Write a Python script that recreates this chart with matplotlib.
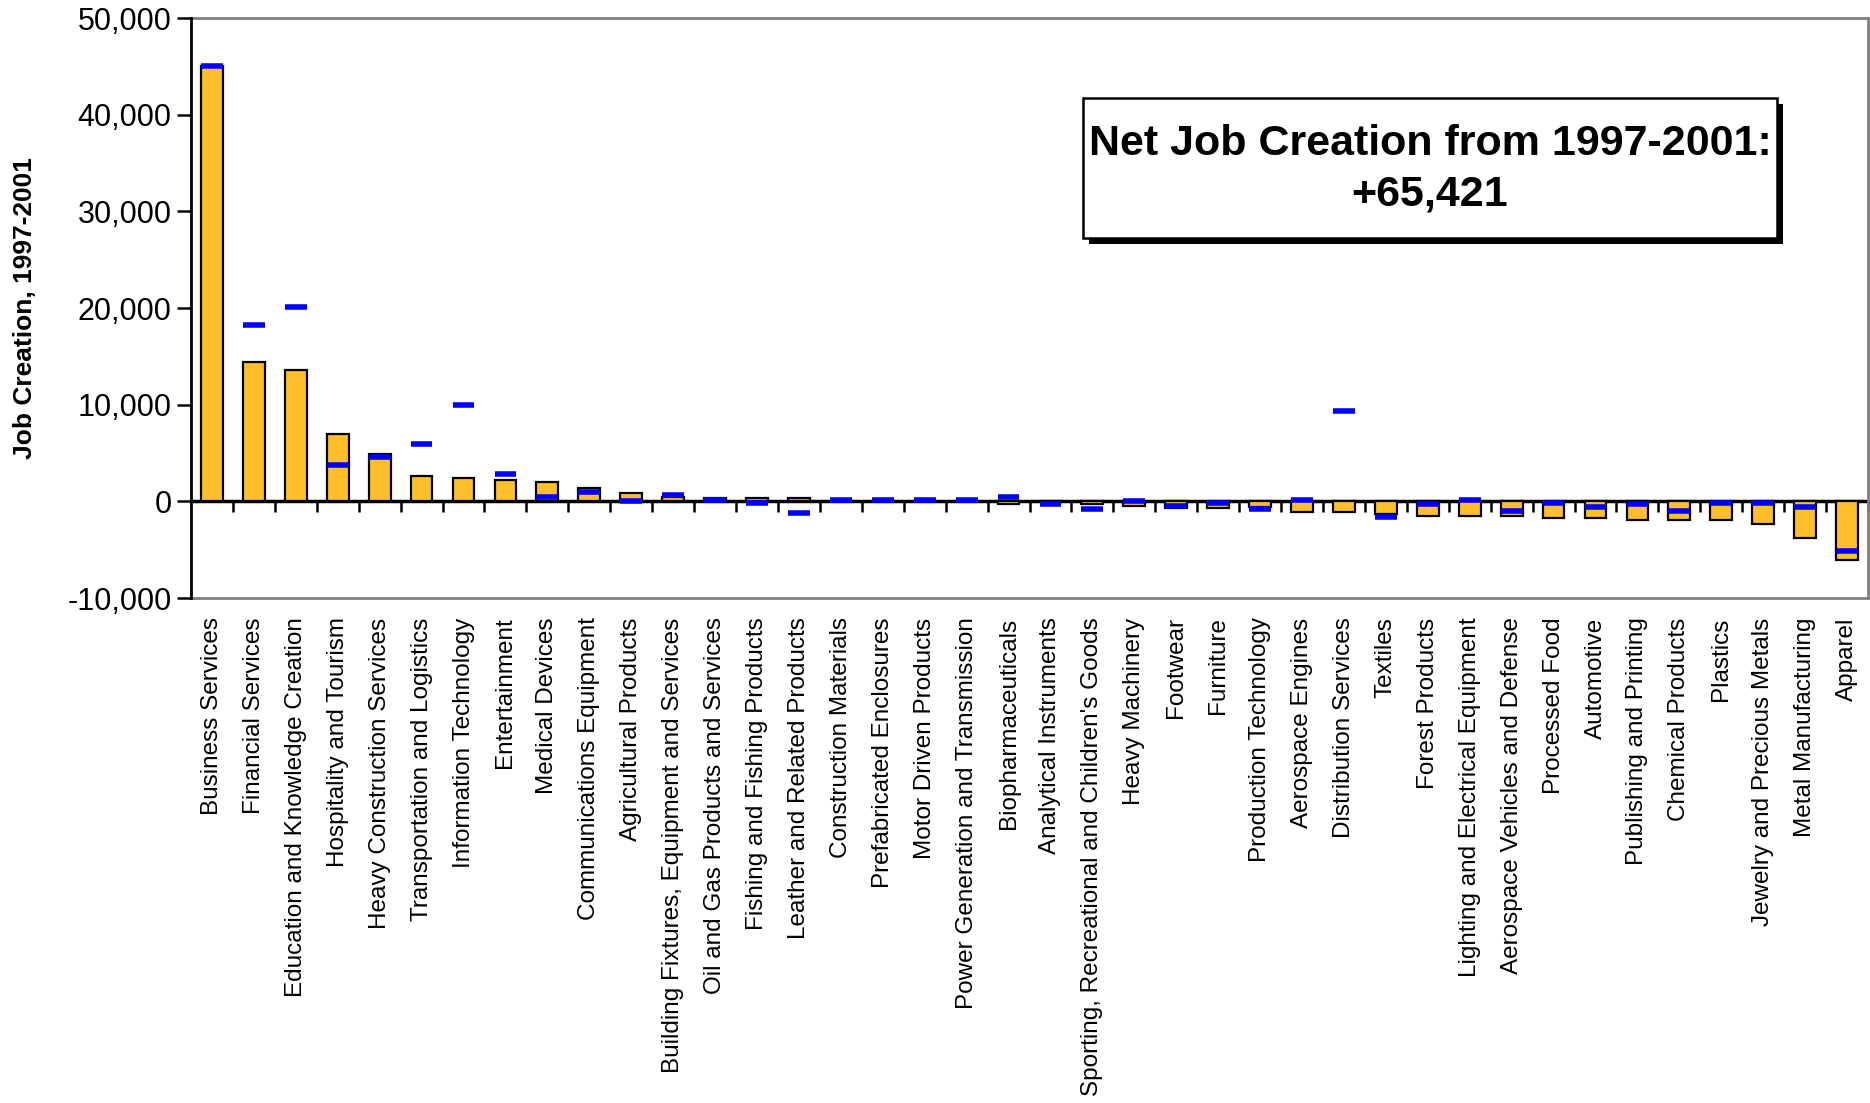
import matplotlib
matplotlib.use("Agg")
import matplotlib.pyplot as plt
from matplotlib.patches import Rectangle
import numpy as np

plt.rcParams['font.family'] = ['Liberation Sans', 'DejaVu Sans']

categories = [
    "Business Services", "Financial Services", "Education and Knowledge Creation",
    "Hospitality and Tourism", "Heavy Construction Services", "Transportation and Logistics",
    "Information Technology", "Entertainment", "Medical Devices", "Communications Equipment",
    "Agricultural Products", "Building Fixtures, Equipment and Services",
    "Oil and Gas Products and Services", "Fishing and Fishing Products",
    "Leather and Related Products", "Construction Materials", "Prefabricated Enclosures",
    "Motor Driven Products", "Power Generation and Transmission", "Biopharmaceuticals",
    "Analytical Instruments", "Sporting, Recreational and Children's Goods",
    "Heavy Machinery", "Footwear", "Furniture", "Production Technology",
    "Aerospace Engines", "Distribution Services", "Textiles", "Forest Products",
    "Lighting and Electrical Equipment", "Aerospace Vehicles and Defense",
    "Processed Food", "Automotive", "Publishing and Printing", "Chemical Products",
    "Plastics", "Jewelry and Precious Metals", "Metal Manufacturing", "Apparel",
]

job_creation = [
    45000, 14450, 13600, 6990, 4900, 2650, 2450, 2250, 2000, 1400,
    830, 500, 380, 380, 380, 50, 30, 20, 10, -280,
    -100, -240, -480, -690, -690, -550, -1100, -1100, -1280, -1520,
    -1520, -1520, -1720, -1720, -1930, -1930, -1930, -2340, -3790, -6070,
]

marker_values = [
    45000, 18250, 20150, 3800, 4620, 5880, 10000, 2780, 490, 920,
    80, 690, 100, -140, -1170, 100, 100, 100, 100, 480,
    -310, -760, 50, -520, -140, -760, 100, 9380, -1590, -310,
    100, -970, -140, -550, -310, -970, -140, -140, -550, -5100,
]

net_title = "Net Job Creation from 1997-2001:"
net_value = "+65,421"
y_ticks = [-10000, 0, 10000, 20000, 30000, 40000, 50000]

W, H = 1870, 1103
fig = plt.figure(figsize=(W / 100, H / 100), dpi=100)
ax = fig.add_axes([191 / W, 1 - 598 / H, (1868 - 191) / W, (598 - 18) / H])

x = np.arange(len(categories))
bar_w = 0.52
ax.bar(x, job_creation, width=bar_w, color='#FEBF2A', edgecolor='black',
       linewidth=1.6, zorder=2)
ax.hlines(marker_values, x - bar_w / 2, x + bar_w / 2, colors='#0000FF',
          linewidth=4, zorder=4)

ax.set_xlim(-0.5, len(categories) - 0.5)
ax.set_ylim(-10000, 50000)
ax.set_yticks(y_ticks)
ax.set_yticklabels([f"{v:,}" for v in y_ticks], fontsize=22)
ax.tick_params(axis='y', direction='out', length=10, width=1.8, color='black', pad=4)

ax.set_xticks(x)
ax.set_xticklabels(categories, rotation=90, fontsize=17.5, va='top', ha='center')
ax.tick_params(axis='x', length=0, pad=14)

for side in ['top', 'right', 'bottom']:
    ax.spines[side].set_color('#808080')
    ax.spines[side].set_linewidth(2)
ax.spines['left'].set_color('black')
ax.spines['left'].set_linewidth(2)
ax.spines['left'].set_zorder(5)

# category axis crossing at zero
zero_frac = (0 - (-10000)) / 60000
sec = ax.secondary_xaxis(zero_frac)
sec.set_xticks(np.arange(len(categories)) + 0.5)
sec.set_xticklabels([])
sec.tick_params(axis='x', direction='out', length=8, width=1.8, color='black')
sec.spines['bottom'].set_linewidth(2.5)
sec.spines['bottom'].set_color('black')

ax.set_ylabel("Job Creation, 1997-2001", fontsize=19, fontweight='bold', labelpad=22)

# annotation box with drop shadow
bx0, by0, bx1, by1 = 1083, 98, 1777, 238
sh = 6
fig.add_artist(Rectangle(((bx0 + sh) / W, 1 - (by1 + sh) / H), (bx1 - bx0) / W, (by1 - by0) / H,
                         transform=fig.transFigure, facecolor='black', edgecolor='black',
                         linewidth=0, zorder=10))
fig.add_artist(Rectangle((bx0 / W, 1 - by1 / H), (bx1 - bx0) / W, (by1 - by0) / H,
                         transform=fig.transFigure, facecolor='white', edgecolor='black',
                         linewidth=1.8, zorder=11))
cx = (bx0 + bx1) / 2 / W
fig.text(cx, 1 - 144 / H, net_title, ha='center', va='center', fontsize=31,
         fontweight='bold', zorder=12)
fig.text(cx, 1 - 195 / H, net_value, ha='center', va='center', fontsize=31,
         fontweight='bold', zorder=12)

fig.savefig("out.png", dpi=100)
